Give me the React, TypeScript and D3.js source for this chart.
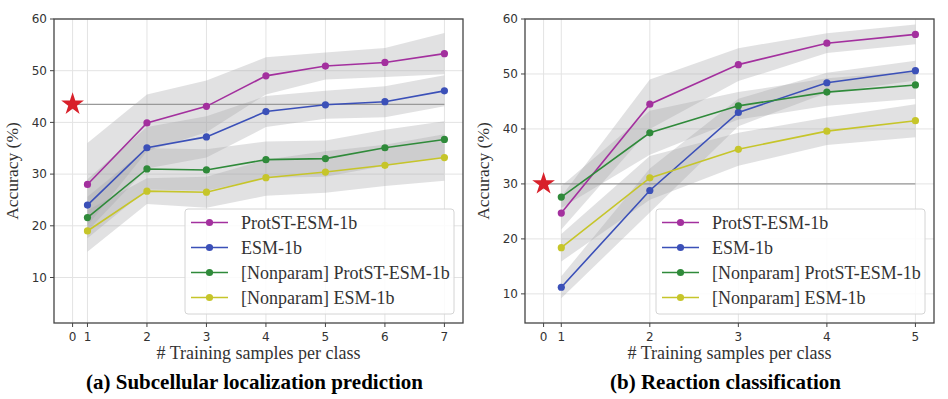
import React, { useEffect, useRef } from 'react';
import * as d3 from 'd3';

// (a) subcellular localization
const subSteps = [1, 2, 3, 4, 5, 6, 7];
const subProtST = [28.0, 39.9, 43.1, 49.0, 50.9, 51.6, 53.3];
const subESM = [24.0, 35.1, 37.2, 42.1, 43.4, 44.0, 46.1];
const subNpProtST = [21.6, 31.0, 30.8, 32.8, 33.0, 35.1, 36.7];
const subNpESM = [19.0, 26.7, 26.5, 29.3, 30.4, 31.7, 33.2];
const subProtSTStd = [8, 5.5, 5, 3.6, 2.6, 2.8, 4];
const subESMStd = [5, 4, 4, 3, 2.7, 3, 3];
const subNpProtSTStd = [4, 4, 4, 3.5, 3.5, 3.5, 3.5];
const subNpESMStd = [4, 2.5, 3, 3.5, 4, 4, 4.5];
const subZeroShot = 43.5;

// (b) reaction classification
const rxnSteps = [1, 2, 3, 4, 5];
const rxnProtST = [24.7, 44.5, 51.7, 55.6, 57.2];
const rxnESM = [11.2, 28.8, 43.0, 48.4, 50.6];
const rxnNpProtST = [27.6, 39.3, 44.2, 46.7, 48.0];
const rxnNpESM = [18.4, 31.1, 36.3, 39.6, 41.5];
const rxnProtSTStd = [3, 4.5, 3, 1.8, 1.8];
const rxnESMStd = [2, 4, 2.5, 1.8, 1.8];
const rxnNpProtSTStd = [2, 4, 2.5, 2.5, 2.5];
const rxnNpESMStd = [2.5, 4, 3, 2.5, 3];
const rxnZeroShot = 30.0;

const seriesNames = ['ProtST-ESM-1b', 'ESM-1b', '[Nonparam] ProtST-ESM-1b', '[Nonparam] ESM-1b'];
const seriesColors = ['#a3309e', '#3b50b8', '#2f8a3a', '#c6c52a'];
const yTicks = [10, 20, 30, 40, 50, 60];

const serif = '"Liberation Serif", "Times New Roman", serif';
const sans = '"DejaVu Sans", sans-serif';

function drawPanel(svg, opts) {
  const { left, top, width, height, steps, means, stds, zeroShot, zeroPos, yMin, caption } = opts;
  const g = svg.append('g').attr('transform', `translate(${left},${top})`);

  const lastStep = steps[steps.length - 1];
  const pad = (lastStep - zeroPos) * 0.05;
  const x = d3.scaleLinear().domain([zeroPos - pad, lastStep + pad]).range([0, width]);
  const y = d3.scaleLinear().domain([yMin, 60]).range([height, 0]);

  const xTicks = [zeroPos, ...steps];
  const xLabels = ['0', ...steps.map(String)];

  // grid
  g.selectAll('.gx').data(xTicks).enter().append('line')
    .attr('x1', d => x(d)).attr('x2', d => x(d)).attr('y1', 0).attr('y2', height)
    .attr('stroke', '#e3e3e3').attr('stroke-width', 1);
  g.selectAll('.gy').data(yTicks).enter().append('line')
    .attr('x1', 0).attr('x2', width).attr('y1', d => y(d)).attr('y2', d => y(d))
    .attr('stroke', '#e3e3e3').attr('stroke-width', 1);

  // std bands
  const area = d3.area()
    .x(d => x(d.s))
    .y0(d => y(d.m - d.sd))
    .y1(d => y(d.m + d.sd));
  means.forEach((m, k) => {
    const pts = steps.map((s, i) => ({ s, m: m[i], sd: stds[k][i] }));
    g.append('path').attr('d', area(pts)).attr('fill', '#a4a4a8').attr('fill-opacity', 0.33);
  });

  // zero-shot reference line
  g.append('line')
    .attr('x1', x(zeroPos)).attr('x2', x(lastStep))
    .attr('y1', y(zeroShot)).attr('y2', y(zeroShot))
    .attr('stroke', '#999').attr('stroke-width', 1.3);

  // series lines
  const line = d3.line().x(d => x(d.s)).y(d => y(d.v));
  means.forEach((m, k) => {
    const pts = steps.map((s, i) => ({ s, v: m[i] }));
    g.append('path').attr('d', line(pts)).attr('fill', 'none')
      .attr('stroke', seriesColors[k]).attr('stroke-width', 1.6);
    g.selectAll(null).data(pts).enter().append('circle')
      .attr('cx', d => x(d.s)).attr('cy', d => y(d.v)).attr('r', 3.6)
      .attr('fill', seriesColors[k]);
  });

  // star
  const star = d3.symbol().type(d3.symbolStar).size(160);
  g.append('path').attr('d', star())
    .attr('transform', `translate(${x(zeroPos)},${y(zeroShot)})`)
    .attr('fill', '#d8202a');

  // frame
  g.append('rect').attr('width', width).attr('height', height)
    .attr('fill', 'none').attr('stroke', '#444').attr('stroke-width', 1.3);

  // ticks
  g.selectAll('.tx').data(xTicks).enter().append('line')
    .attr('x1', d => x(d)).attr('x2', d => x(d)).attr('y1', height).attr('y2', height + 4)
    .attr('stroke', '#444');
  g.selectAll('.tlx').data(xTicks).enter().append('text')
    .attr('x', d => x(d)).attr('y', height + 18).attr('text-anchor', 'middle')
    .attr('font-family', sans).attr('font-size', 12).attr('fill', '#333')
    .text((d, i) => xLabels[i]);
  g.selectAll('.ty').data(yTicks).enter().append('line')
    .attr('x1', -4).attr('x2', 0).attr('y1', d => y(d)).attr('y2', d => y(d))
    .attr('stroke', '#444');
  g.selectAll('.tly').data(yTicks).enter().append('text')
    .attr('x', -7).attr('y', d => y(d)).attr('dy', '0.35em').attr('text-anchor', 'end')
    .attr('font-family', sans).attr('font-size', 12).attr('fill', '#333')
    .text(d => d);

  // axis labels
  g.append('text')
    .attr('transform', `translate(-36,${height / 2}) rotate(-90)`)
    .attr('text-anchor', 'middle').attr('font-family', serif).attr('font-size', 17.5).attr('fill', '#333')
    .text('Accuracy (%)');
  g.append('text')
    .attr('x', width / 2).attr('y', height + 36).attr('text-anchor', 'middle')
    .attr('font-family', serif).attr('font-size', 18).attr('fill', '#333')
    .text('# Training samples per class');
  g.append('text')
    .attr('x', width / 2 - 4).attr('y', height + 66).attr('text-anchor', 'middle')
    .attr('font-family', serif).attr('font-size', 21).attr('font-weight', 'bold').attr('fill', '#000')
    .text(caption);

  // legend
  const lw = 269, lh = 105;
  const lg = g.append('g').attr('transform', `translate(${width - 9 - lw},${height - 9 - lh})`);
  lg.append('rect').attr('width', lw).attr('height', lh).attr('rx', 3)
    .attr('fill', 'white').attr('fill-opacity', 0.85).attr('stroke', '#d4d4d4');
  seriesNames.forEach((name, k) => {
    const cy = 13.5 + k * 25;
    lg.append('line').attr('x1', 6).attr('x2', 43).attr('y1', cy).attr('y2', cy)
      .attr('stroke', seriesColors[k]).attr('stroke-width', 1.6);
    lg.append('circle').attr('cx', 24.5).attr('cy', cy).attr('r', 3.6).attr('fill', seriesColors[k]);
    lg.append('text').attr('x', 56).attr('y', cy).attr('dy', '0.35em')
      .attr('font-family', serif).attr('font-size', 18).attr('fill', '#333')
      .text(name);
  });
}

const App = () => {
  const svgRef = useRef(null);

  useEffect(() => {
    const svg = d3.select(svgRef.current);
    svg.selectAll('*').remove();

    drawPanel(svg, {
      left: 54, top: 19, width: 409, height: 304,
      steps: subSteps,
      means: [subProtST, subESM, subNpProtST, subNpESM],
      stds: [subProtSTStd, subESMStd, subNpProtSTStd, subNpESMStd],
      zeroShot: subZeroShot, zeroPos: 0.75, yMin: 1.2,
      caption: '(a) Subcellular localization prediction',
    });
    drawPanel(svg, {
      left: 525, top: 19, width: 409, height: 304,
      steps: rxnSteps,
      means: [rxnProtST, rxnESM, rxnNpProtST, rxnNpESM],
      stds: [rxnProtSTStd, rxnESMStd, rxnNpProtSTStd, rxnNpESMStd],
      zeroShot: rxnZeroShot, zeroPos: 0.8, yMin: 4.7,
      caption: '(b) Reaction classification',
    });
  }, []);

  return (
    <svg ref={svgRef} width={948} height={399}
      style={{ position: 'absolute', left: 0, top: 0, background: 'white' }} />
  );
};

export default App;
